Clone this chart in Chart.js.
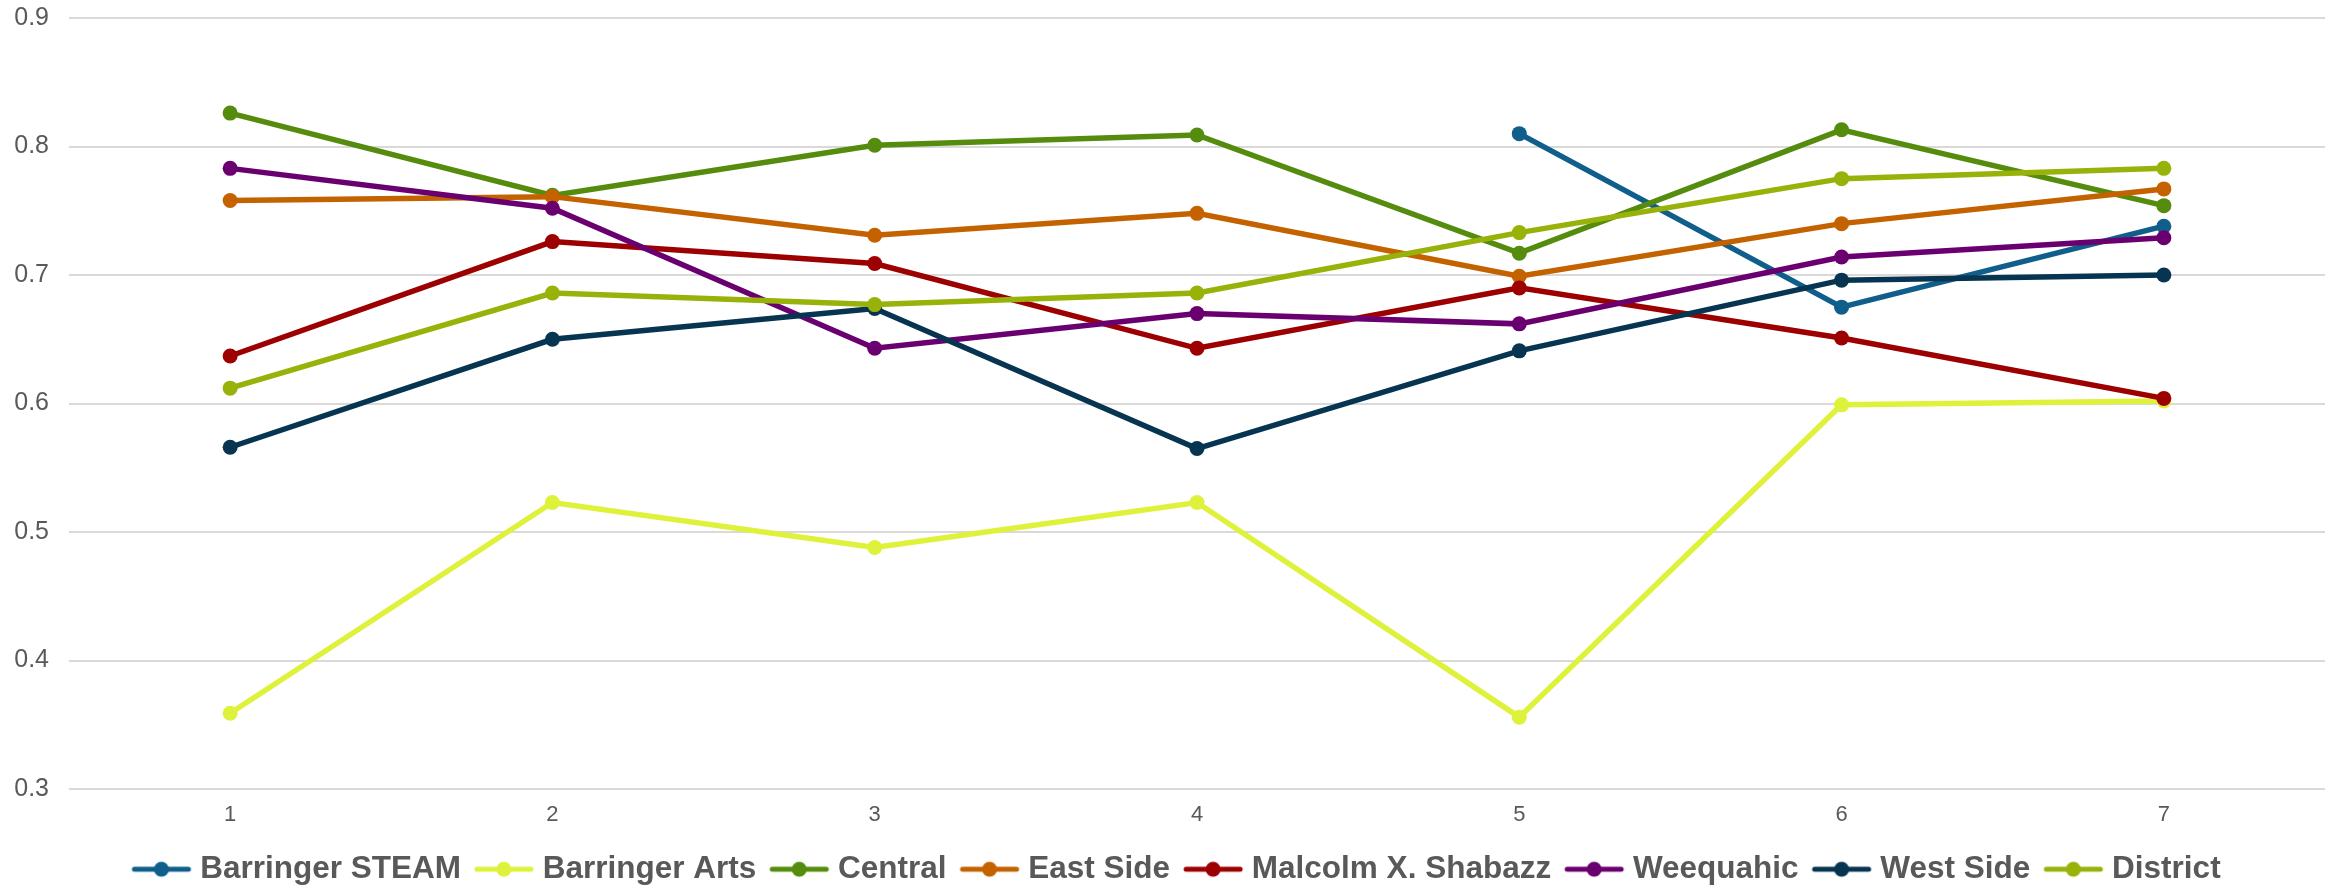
<!DOCTYPE html>
<html>
<head>
<meta charset="utf-8">
<script src="https://cdn.jsdelivr.net/npm/chart.js@4"></script>
<style>
  body { margin: 0; background: #fff; }
  #wrap { width: 2341px; height: 891px; position: relative; }
</style>
</head>
<body>
<div id="wrap"><canvas id="schoolChart"></canvas></div>
<script>
// categories on the x axis
const categories = ['1', '2', '3', '4', '5', '6', '7'];

// series values
const barringerSteam = [null, null, null, null, 0.810, 0.675, 0.738];
const barringerArts  = [0.359, 0.523, 0.488, 0.523, 0.356, 0.599, 0.602];
const central        = [0.826, 0.762, 0.801, 0.809, 0.717, 0.813, 0.754];
const eastSide       = [0.758, 0.761, 0.731, 0.748, 0.699, 0.740, 0.767];
const malcolmX       = [0.637, 0.726, 0.709, 0.643, 0.690, 0.651, 0.604];
const weequahic      = [0.783, 0.752, 0.643, 0.670, 0.662, 0.714, 0.729];
const westSide       = [0.566, 0.650, 0.674, 0.565, 0.641, 0.696, 0.700];
const district       = [0.612, 0.686, 0.677, 0.686, 0.733, 0.775, 0.783];

const seriesNames  = ['Barringer STEAM', 'Barringer Arts', 'Central', 'East Side', 'Malcolm X. Shabazz', 'Weequahic', 'West Side', 'District'];
const seriesData   = [barringerSteam, barringerArts, central, eastSide, malcolmX, weequahic, westSide, district];
const seriesColors = ['#0f5e8b', '#def23c', '#558c0e', '#c46200', '#9c0000', '#6a0070', '#073551', '#99b20a'];

// y axis ticks
const yMin = 0.3, yMax = 0.9, yStep = 0.1;

// little line-with-dot picture for the legend
function legendMarker(color) {
    const c = document.createElement('canvas');
    c.width = 62;
    c.height = 20;
    const g = c.getContext('2d');
    g.strokeStyle = color;
    g.lineWidth = 5;
    g.lineCap = 'round';
    g.beginPath();
    g.moveTo(4, 10);
    g.lineTo(58, 10);
    g.stroke();
    g.fillStyle = color;
    g.beginPath();
    g.arc(31, 10, 7.5, 0, Math.PI * 2);
    g.fill();
    return c;
}

const datasets = seriesNames.map(function(name, i) {
    return {
        label: name,
        data: seriesData[i],
        borderColor: seriesColors[i],
        backgroundColor: seriesColors[i],
        borderWidth: 5.5,
        pointRadius: 7.5,
        pointHoverRadius: 7.5,
        pointBorderWidth: 0,
        pointStyle: 'circle',
        legendImg: legendMarker(seriesColors[i]),
        tension: 0,
        // later series drawn on top, like the original
        order: seriesNames.length - i
    };
});

// the original legend sits a little right of centre
const nudgeLegend = {
    id: 'nudgeLegend',
    afterLayout: function(chart) {
        chart.legend.left += 17;
        chart.legend.right += 17;
    }
};

const ctx = document.getElementById('schoolChart').getContext('2d');

new Chart(ctx, {
    type: 'line',
    data: { labels: categories, datasets: datasets },
    plugins: [nudgeLegend],
    options: {
        responsive: true,
        maintainAspectRatio: false,
        animation: false,
        layout: { padding: { top: 18, right: 16, bottom: -4, left: 0 } },
        plugins: {
            tooltip: { enabled: false },
            legend: {
                position: 'bottom',
                labels: {
                    usePointStyle: true,
                    pointStyleWidth: 46,
                    padding: 20,
                    color: '#595959',
                    font: { family: 'Liberation Sans, Arial, sans-serif', size: 31.5, weight: 'bold' },
                    generateLabels: function(chart) {
                        return chart.data.datasets.map(function(ds, i) {
                            return {
                                text: ds.label,
                                fillStyle: ds.borderColor,
                                strokeStyle: ds.borderColor,
                                lineWidth: 0,
                                pointStyle: ds.legendImg,
                                hidden: false,
                                datasetIndex: i,
                                fontColor: '#595959'
                            };
                        });
                    }
                }
            }
        },
        scales: {
            x: {
                offset: true,
                grid: { display: false },
                border: { display: false },
                ticks: {
                    color: '#595959',
                    padding: 5,
                    font: { family: 'Liberation Sans, Arial, sans-serif', size: 22 }
                }
            },
            y: {
                min: yMin,
                max: yMax,
                afterFit: function(scale) {
                    scale.width = 69;
                    scale.paddingTop = 0;
                    scale.paddingBottom = 0;
                },
                grid: { color: '#d9d9d9', lineWidth: 2, drawTicks: false },
                border: { display: false },
                ticks: {
                    stepSize: yStep,
                    padding: 20,
                    color: '#595959',
                    font: { family: 'Liberation Sans, Arial, sans-serif', size: 25 },
                    callback: function(v) { return Number(v).toFixed(1); }
                }
            }
        }
    }
});
</script>
</body>
</html>
